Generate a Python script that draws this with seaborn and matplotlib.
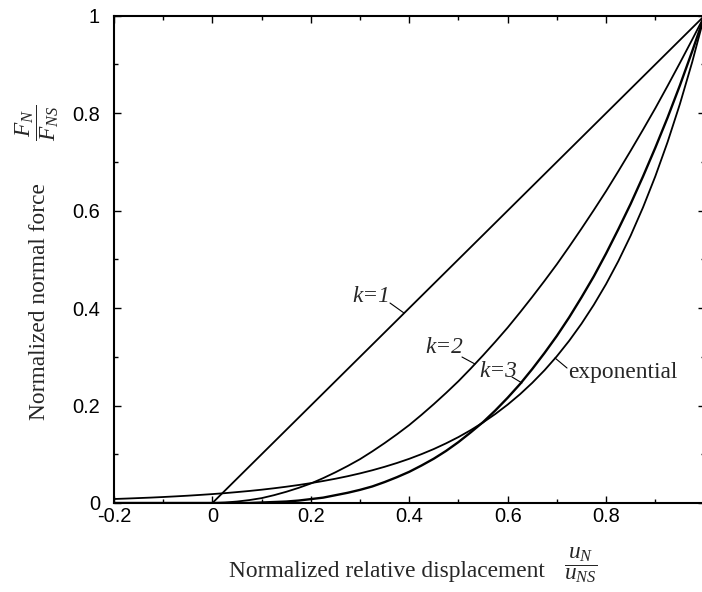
import numpy as np
import pandas as pd
import matplotlib
matplotlib.use("Agg")
import matplotlib.pyplot as plt
import seaborn as sns

# ---- data ----
x_grid = [-0.2, -0.175, -0.15, -0.125, -0.1, -0.075, -0.05, -0.025,
          0.0, 0.025, 0.05, 0.075, 0.1, 0.125, 0.15, 0.175, 0.2, 0.225, 0.25,
          0.275, 0.3, 0.325, 0.35, 0.375, 0.4, 0.425, 0.45, 0.475, 0.5, 0.525,
          0.55, 0.575, 0.6, 0.625, 0.65, 0.675, 0.7, 0.725, 0.75, 0.775, 0.8,
          0.825, 0.85, 0.875, 0.9, 0.925, 0.95, 0.975, 1.0]

k1_x = [-0.2, 0.0, 1.0]
k1_y = [0.0, 0.0, 1.0]

k2_y = [0, 0, 0, 0, 0, 0, 0, 0,
        0.000, 0.001, 0.003, 0.006, 0.010, 0.016, 0.023, 0.031, 0.040, 0.051,
        0.063, 0.076, 0.090, 0.106, 0.123, 0.141, 0.160, 0.181, 0.203, 0.226,
        0.250, 0.276, 0.303, 0.331, 0.360, 0.391, 0.423, 0.456, 0.490, 0.526,
        0.563, 0.601, 0.640, 0.681, 0.723, 0.766, 0.810, 0.856, 0.903, 0.951,
        1.000]

k3_y = [0, 0, 0, 0, 0, 0, 0, 0,
        0.000, 0.000, 0.000, 0.000, 0.001, 0.002, 0.003, 0.005, 0.008, 0.011,
        0.016, 0.021, 0.027, 0.034, 0.043, 0.053, 0.064, 0.077, 0.091, 0.107,
        0.125, 0.145, 0.166, 0.190, 0.216, 0.244, 0.275, 0.308, 0.343, 0.381,
        0.422, 0.465, 0.512, 0.562, 0.614, 0.670, 0.729, 0.791, 0.857, 0.927,
        1.000]

exp_y = [0.0082, 0.0091, 0.0101, 0.0111, 0.0123, 0.0136, 0.0150, 0.0166,
         0.0183, 0.0202, 0.0224, 0.0247, 0.0273, 0.0302, 0.0334, 0.0369,
         0.0408, 0.0451, 0.0498, 0.0550, 0.0608, 0.0672, 0.0743, 0.0821,
         0.0907, 0.1003, 0.1108, 0.1225, 0.1353, 0.1496, 0.1653, 0.1827,
         0.2019, 0.2231, 0.2466, 0.2725, 0.3012, 0.3329, 0.3679, 0.4066,
         0.4493, 0.4966, 0.5488, 0.6065, 0.6703, 0.7408, 0.8187, 0.9048,
         1.0000]

x_ticks = [-0.2, 0.0, 0.2, 0.4, 0.6, 0.8, 1.0]
x_ticklabels = ["-0.2", "0", "0.2", "0.4", "0.6", "0.8", ""]
y_ticks = [0.0, 0.2, 0.4, 0.6, 0.8, 1.0]
y_ticklabels = ["0", "0.2", "0.4", "0.6", "0.8", "1"]

# ---- style ----
sns.set_theme(style="ticks")
plt.rcParams["font.family"] = ["Liberation Sans", "DejaVu Sans"]
plt.rcParams["mathtext.fontset"] = "custom"
plt.rcParams["mathtext.rm"] = "Liberation Serif"
plt.rcParams["mathtext.it"] = "Liberation Serif:italic"
plt.rcParams["mathtext.bf"] = "Liberation Serif:bold"

W, H = 702, 592
fig = plt.figure(figsize=(W / 100, H / 100), dpi=100)
ax = fig.add_axes([114 / W, 1 - 503 / H, (704.5 - 114) / W, (503 - 15.7) / H])

lw = 1.3
sns.lineplot(x=k1_x, y=k1_y, ax=ax, color="black", lw=lw, sort=False, estimator=None)
sns.lineplot(x=x_grid, y=k2_y, ax=ax, color="black", lw=lw, sort=False, estimator=None)
sns.lineplot(x=x_grid, y=k3_y, ax=ax, color="black", lw=1.7, sort=False, estimator=None)
sns.lineplot(x=x_grid, y=exp_y, ax=ax, color="black", lw=lw, sort=False, estimator=None)

ax.set_xlim(-0.2, 1.0)
ax.set_ylim(0, 1.0)
ax.set_xticks(x_ticks)
ax.set_xticklabels(x_ticklabels)
ax.set_yticks(y_ticks)
ax.set_yticklabels(y_ticklabels)
ax.set_xticks([-0.1, 0.1, 0.3, 0.5, 0.7, 0.9], minor=True)
ax.set_yticks([0.1, 0.3, 0.5, 0.7, 0.9], minor=True)
ax.tick_params(which="both", direction="in", top=True, right=True, colors="black")
ax.tick_params(which="major", length=5, width=1.0, labelsize=14.4)
ax.tick_params(which="minor", length=3, width=1.0)
ax.tick_params(axis="x", which="major", pad=3)
ax.tick_params(axis="y", which="major", pad=10)
for s in ax.spines.values():
    s.set_linewidth(1.5)
    s.set_color("black")
    s.set_visible(True)
ax.set_xlabel("")
ax.set_ylabel("")

serif = ["Liberation Serif", "DejaVu Serif"]
fs = 16.8

# curve annotations
ann = [("k=1", 0.3233, 0.4125, (0.3609, 0.4104), (0.3893, 0.3899)),
       ("k=2", 0.4706, 0.3078, (0.5072, 0.2996), (0.5336, 0.2852)),
       ("k=3", 0.5814, 0.2586, (0.6088, 0.2586), (0.6291, 0.2463))]
for txt, tx, ty, p1, p2 in ann:
    ax.text(tx, ty, txt, family=serif, style="italic", fontsize=fs,
            ha="center", va="baseline")
    ax.plot([p1[0], p2[0]], [p1[1], p2[1]], color="black", lw=0.8)
ax.text(0.8334, 0.2565, "exponential", family=serif, fontsize=fs,
        ha="center", va="baseline")
ax.plot([0.6962, 0.7206], [0.2976, 0.2770], color="black", lw=0.8)

# axis labels
fig.text(386.5 / W, 1 - 577 / H, "Normalized relative displacement",
         family=serif, fontsize=fs, ha="center", va="baseline")
fig.text(580.5 / W, 1 - 565 / H, r"$\dfrac{u_N}{u_{NS}}$",
         fontsize=fs, ha="center", va="center")
fig.text(45 / W, 1 - 301.5 / H, "Normalized normal force",
         family=serif, fontsize=fs, ha="center", va="baseline",
         rotation=90, rotation_mode="anchor")
fig.text(37 / W, 1 - 123 / H, r"$\dfrac{F_N}{F_{NS}}$",
         fontsize=fs, ha="center", va="center", rotation=90)

fig.savefig("out.png", dpi=100, facecolor="white")
